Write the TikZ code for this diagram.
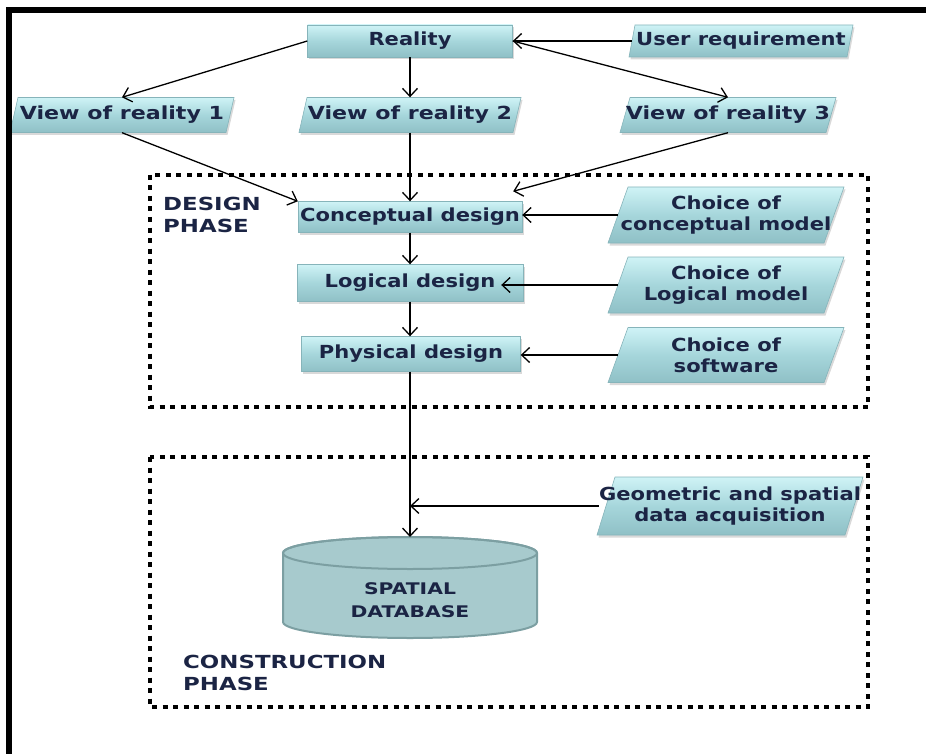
\documentclass[tikz,border=0pt]{standalone}
\usepackage{fontspec}
\setmainfont{DejaVu Sans}[FakeStretch=1.17]
\newfontfamily\boxfont{DejaVu Sans Bold}[FakeStretch=1.17]
\newfontfamily\viewfont{DejaVu Sans Bold}[FakeStretch=1.23]
\newfontfamily\capsfont{DejaVu Sans Bold}[FakeStretch=1.27]
\usetikzlibrary{arrows.meta,calc,shadings,shadows}
\pgfdeclarelayer{background}
\pgfsetlayers{background,main}
\definecolor{txt}{HTML}{1B2444}
\definecolor{boxtop}{HTML}{CFF3F6}
\definecolor{boxmid}{HTML}{A6D6DB}
\definecolor{boxbot}{HTML}{8FC0C6}
\definecolor{boxedge}{HTML}{86B4BA}
\definecolor{cylfill}{HTML}{A7CACD}
\definecolor{cyledge}{HTML}{7C9FA2}
\tikzset{
  boxtext/.style={font=\boxfont\fontsize{18}{21}\selectfont, text=txt, align=center, inner sep=0pt},
  viewtext/.style={font=\viewfont\fontsize{18}{21}\selectfont},
  boxfill/.style={top color=boxtop, bottom color=boxbot, middle color=boxmid, draw=boxedge, line width=0.6pt,
    drop shadow={shadow xshift=1.5pt, shadow yshift=-2.5pt, opacity=0.3, fill=gray}},
  conn/.style={draw=black, line width=1.3pt, -{Straight Barb[length=8pt,width=15pt]}},
  phase/.style={draw=black, line width=4.5pt, dash pattern=on 5pt off 5.5pt},
  phasetext/.style={font=\capsfont\fontsize{18}{22}\selectfont, text=txt, align=left, inner sep=0pt, anchor=north west},
  dbtext/.style={font=\capsfont\fontsize{16}{23}\selectfont, text=txt, align=center, inner sep=0pt},
  cyl/.style={fill=cylfill, draw=cyledge, line width=2pt},
}
% optional node options, name, centre, width, height, slant, text
\newcommand\slbox[7][]{%
  \node[boxtext, #1, minimum width=#4, minimum height=#5] (#2) at (#3) {#7};
  \begin{pgfonlayer}{background}
  \path[boxfill] ($(#2.center)+(-#4/2+#6,-#5/2)$) -- ($(#2.center)+(#4/2+#6,-#5/2)$)
     -- ($(#2.center)+(#4/2-#6,#5/2)$) -- ($(#2.center)+(-#4/2-#6,#5/2)$) -- cycle;
  \end{pgfonlayer}}
\begin{document}
\begin{tikzpicture}[x=1pt,y=-1pt]
\useasboundingbox (0,0) rectangle (926,754);
% frame
\draw[line width=6pt] (8.5,754) -- (8.5,10) -- (926,10);
% phase boxes
\draw[phase] (150,175) rectangle (868,407);
\draw[phase] (150,457) rectangle (868,707);
\node[phasetext] (designlbl) at (163,197) {DESIGN\\PHASE};
\node[phasetext] (constrlbl) at (183,655) {CONSTRUCTION\\PHASE};
% boxes
\slbox{reality}{410,41}{205}{32}{0}{Reality}
\slbox{user}{741,41}{218}{32}{3}{User requirement}
\slbox[viewtext]{view1}{122,115}{216}{35}{4}{View of reality 1}
\slbox[viewtext]{view2}{410,115}{214}{35}{4}{View of reality 2}
\slbox[viewtext]{view3}{728,115}{206}{35}{5}{View of reality 3}
\slbox{concept}{410,217}{224}{31}{0}{Conceptual design}
\slbox{logical}{410,283}{226}{37}{0}{Logical design}
\slbox{physical}{411,354}{219}{35}{0}{Physical design}
\slbox{choice1}{726,215}{216}{56}{10}{Choice of\\conceptual model}
\slbox{choice2}{726,285}{216}{56}{10}{Choice of\\Logical model}
\slbox{choice3}{726,355}{216}{55}{10}{Choice of\\software}
\slbox{geo}{730,506}{248}{58}{9}{Geometric and spatial\\data acquisition}
% cylinder
\filldraw[cyl] (283,553) -- (283,622) arc[start angle=180, end angle=0, x radius=127, y radius=16]
  -- (537,553) arc[start angle=0, end angle=-180, x radius=127, y radius=16] -- cycle;
\draw[cyledge, line width=2pt] (410,553) ellipse[x radius=127, y radius=16];
\node[dbtext] (db) at (410,600) {SPATIAL\\DATABASE};
\coordinate (dbtop) at (410,537);
\coordinate (join) at (410,506);
% connectors
\draw[conn] (reality.west) -- (view1.north);
\draw[conn] (reality.south) -- (reality.south |- view2.north);
\draw[conn] (reality.east) -- (view3.north);
\draw[conn] (user.west) -- (reality.east);
\draw[conn] (view1.south) -- (concept.north west);
\draw[conn] (view2.south) -- (concept.north);
\draw[conn] (view3.south) -- ($(concept.north east)+(-9,-10)$);
\draw[conn] (choice1.west) -- (choice1.west -| concept.east);
\draw[conn] (choice2.west) -- ($(choice2.west -| logical.east)+(-22,0)$);
\draw[conn] (choice3.west) -- (choice3.west -| physical.east);
\draw[conn] (concept.south) -- (concept.south |- logical.north);
\draw[conn] (logical.south) -- (logical.south |- physical.north);
\draw[conn] (physical.south -| concept.south) -- (dbtop);
\draw[conn] (geo.west) -- (join);
\end{tikzpicture}
\end{document}
